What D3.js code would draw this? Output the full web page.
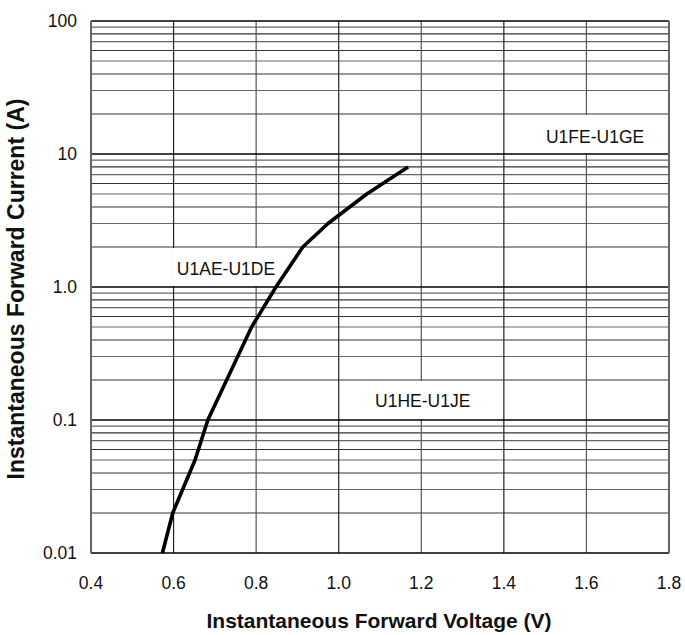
<html>
<head>
<meta charset="utf-8">
<script src="https://d3js.org/d3.v7.min.js"></script>
<style>
  body { margin: 0; background: #fff; }
  text { font-family: Arial, "Liberation Sans", sans-serif; }
</style>
</head>
<body>
<div id="chart"></div>
<script>
  // forward characteristic
  let voltage = [0.573, 0.598, 0.652, 0.683, 0.789, 0.848, 0.913, 0.974, 1.068, 1.168];
  let current = [0.01, 0.02, 0.05, 0.1, 0.5, 1.0, 2.0, 3.0, 5.0, 8.0];

  let xTicks = [0.4, 0.6, 0.8, 1.0, 1.2, 1.4, 1.6, 1.8];
  let xTickLabels = ["0.4", "0.6", "0.8", "1.0", "1.2", "1.4", "1.6", "1.8"];
  let yTicks = [0.01, 0.1, 1, 10, 100];
  let yTickLabels = ["0.01", "0.1", "1.0", "10", "100"];

  let noteLabels = ["U1FE-U1GE", "U1AE-U1DE", "U1HE-U1JE"];
  let noteV = [1.502, 0.608, 1.088];
  let noteI = [12.1, 1.23, 0.126];
  let noteDecade = [10, 1, 0.1];

  let width = 685, height = 635;
  let margin = {left: 91, right: 16, top: 21, bottom: 82};

  let svg = d3.select("#chart").append("svg")
    .attr("width", width)
    .attr("height", height);

  let x = d3.scaleLinear().domain([0.4, 1.8]).range([margin.left, width - margin.right]);
  let y = d3.scaleLog().domain([0.01, 100]).range([height - margin.bottom, margin.top]);

  // minor log grid
  let minor = [];
  [0.01, 0.1, 1, 10].forEach(function(d) {
    for (let k = 2; k <= 9; k++) minor.push(d * k);
  });

  let grid = svg.append("g");
  grid.selectAll(".minor").data(minor).enter().append("line")
    .attr("x1", x(0.4)).attr("x2", x(1.8))
    .attr("y1", d => y(d)).attr("y2", d => y(d))
    .style("stroke", (d, i) => i % 2 ? "#666" : "#333")
    .style("stroke-width", 1.1);

  grid.selectAll(".vline").data(xTicks.slice(1, -1)).enter().append("line")
    .attr("x1", d => x(d)).attr("x2", d => x(d))
    .attr("y1", y(100)).attr("y2", y(0.01))
    .style("stroke", (d, i) => i % 2 ? "#555" : "#222")
    .style("stroke-width", 1.2);

  grid.selectAll(".major").data(yTicks).enter().append("line")
    .attr("x1", x(0.4)).attr("x2", x(1.8))
    .attr("y1", d => y(d)).attr("y2", d => y(d))
    .style("stroke", "#000")
    .style("stroke-width", 1.4);

  // side borders
  grid.selectAll(".side").data([0.4, 1.8]).enter().append("line")
    .attr("x1", d => x(d)).attr("x2", d => x(d))
    .attr("y1", y(100)).attr("y2", y(0.01))
    .style("stroke", "#666")
    .style("stroke-width", 2);

  // labels with white boxes behind them
  let notes = svg.append("g");
  noteLabels.forEach(function(lab, i) {
    let t = notes.append("text")
      .attr("x", x(noteV[i]))
      .attr("y", y(noteI[i]))
      .style("font-size", "17.5px")
      .style("fill", "#111")
      .text(lab);
    let bb = t.node().getBBox();
    notes.insert("rect", "text")
      .attr("x", bb.x - 4)
      .attr("width", bb.width + 8)
      .attr("y", y(noteDecade[i] * 2) + 1)
      .attr("height", y(noteDecade[i]) - y(noteDecade[i] * 2) - 2)
      .style("fill", "#fff");
  });

  // curve
  let line = d3.line()
    .x((d, i) => x(voltage[i]))
    .y(d => y(d));
  svg.append("path")
    .datum(current)
    .attr("d", line)
    .style("fill", "none")
    .style("stroke", "#000")
    .style("stroke-width", 3.6)
    .style("stroke-linejoin", "round");

  // tick labels
  svg.append("g").selectAll("text").data(xTicks).enter().append("text")
    .attr("x", d => x(d))
    .attr("y", height - margin.bottom + 36)
    .attr("text-anchor", "middle")
    .style("font-size", "17.5px")
    .style("fill", "#111")
    .text((d, i) => xTickLabels[i]);

  svg.append("g").selectAll("text").data(yTicks).enter().append("text")
    .attr("x", margin.left - 14)
    .attr("y", d => y(d))
    .attr("dy", "0.36em")
    .attr("text-anchor", "end")
    .style("font-size", "17.5px")
    .style("fill", "#111")
    .text((d, i) => yTickLabels[i]);

  // axis titles
  svg.append("text")
    .attr("x", 379)
    .attr("y", 628)
    .attr("text-anchor", "middle")
    .style("font-size", "21px")
    .style("font-weight", "bold")
    .style("fill", "#111")
    .text("Instantaneous Forward Voltage (V)");

  svg.append("text")
    .attr("transform", "translate(24,289) rotate(-90)")
    .attr("text-anchor", "middle")
    .style("font-size", "23px")
    .style("font-weight", "bold")
    .style("fill", "#111")
    .text("Instantaneous Forward Current (A)");
</script>
</body>
</html>
